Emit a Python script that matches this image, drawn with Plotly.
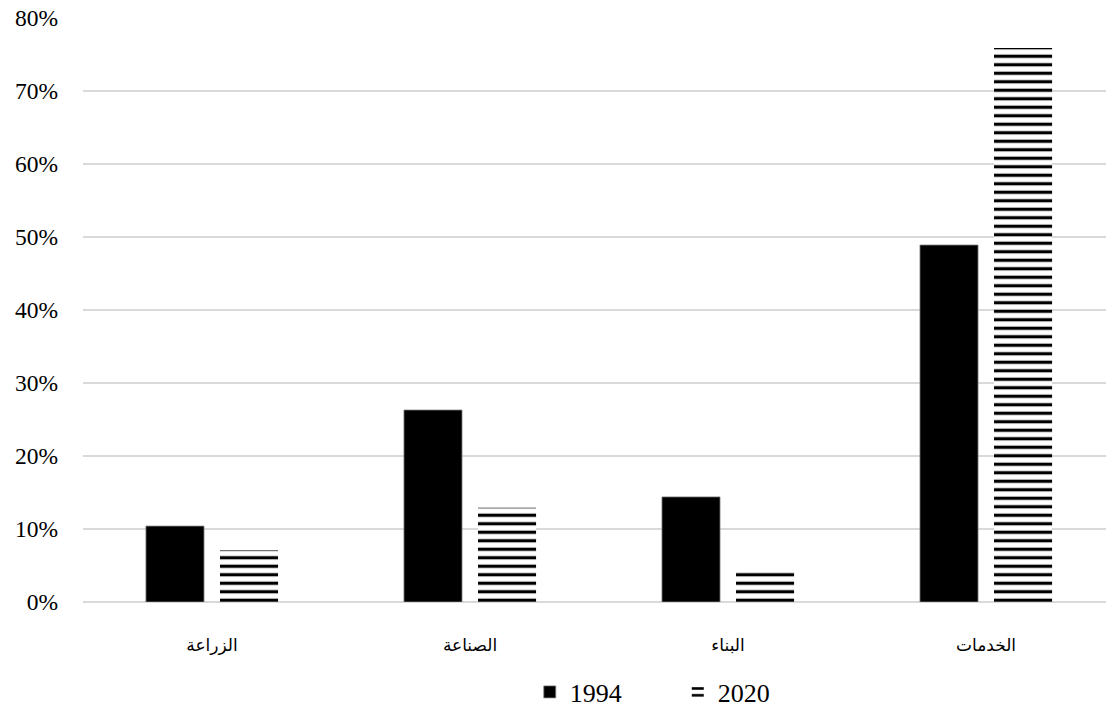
import plotly.graph_objects as go

categories = ["الزراعة", "الصناعة", "البناء", "الخدمات"]
series_names = ["1994", "2020"]
values_1994 = [10.4, 26.3, 14.4, 48.9]
values_2020 = [7.1, 12.9, 4.1, 75.9]
y_ticks = [0, 10, 20, 30, 40, 50, 60, 70, 80]
y_tick_text = [f"{v}%" for v in y_ticks]

fig = go.Figure()
fig.add_trace(go.Bar(
    x=categories, y=values_1994, name=series_names[0],
    marker=dict(color="#000000", line=dict(color="#7f7f7f", width=0.8)),
))
fig.add_trace(go.Bar(
    x=categories, y=values_2020, name=series_names[1],
    marker=dict(color="#ffffff", line=dict(color="#ffffff", width=0),
                pattern=dict(shape="-", fgcolor="#000000", bgcolor="#ffffff",
                             size=8.5, solidity=0.38, fillmode="replace")),
))

fig.update_layout(
    width=1106, height=709,
    margin=dict(l=83, r=0, t=18, b=106.5, autoexpand=False),
    paper_bgcolor="#ffffff", plot_bgcolor="#ffffff",
    barmode="group", bargap=0.426, bargroupgap=0.216,
    font=dict(family="Liberation Serif, Times New Roman, serif", color="#000000", size=20),
    showlegend=True,
    legend=dict(orientation="h", xref="container", yref="container",
                x=0.479, xanchor="left", y=0.024, yanchor="middle",
                font=dict(size=26, family="Liberation Serif, serif"), itemwidth=30,
                entrywidth=103, entrywidthmode="pixels",
                traceorder="normal", tracegroupgap=0),
)
fig.update_xaxes(
    type="category", range=[-0.5, 3.465], showgrid=False, showline=False,
    ticks="", ticklabelstandoff=31,
    tickfont=dict(size=17, family="Liberation Serif, DejaVu Sans, serif"),
)
fig.update_yaxes(
    range=[0, 80], tickvals=y_ticks, ticktext=y_tick_text, showgrid=True,
    gridcolor="#d9d9d9", gridwidth=1.5, zeroline=True, zerolinecolor="#d9d9d9",
    zerolinewidth=1.5, showline=False, ticks="", ticklabelstandoff=24,
    tickfont=dict(size=23.5, family="Liberation Serif, serif"),
)

fig.write_html("out.html")
